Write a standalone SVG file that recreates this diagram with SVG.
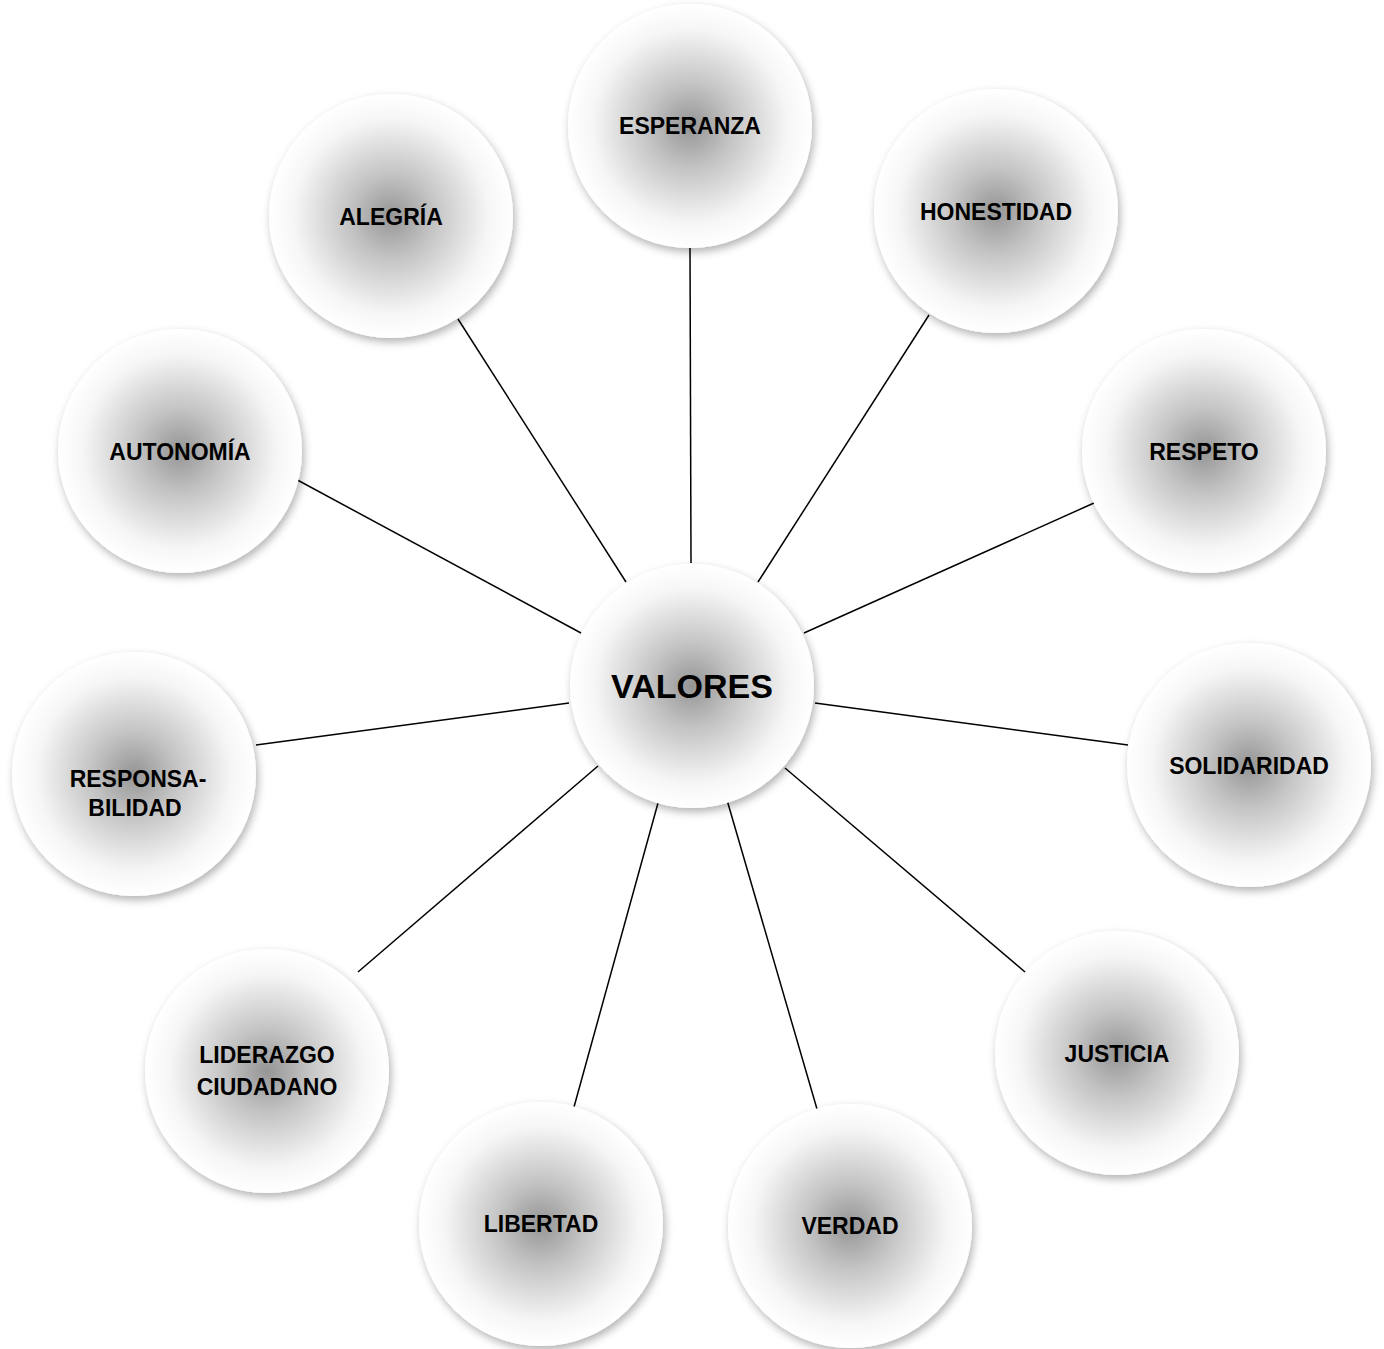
<svg xmlns="http://www.w3.org/2000/svg" width="1384" height="1349" viewBox="0 0 1384 1349">
<defs>
<radialGradient id="g" cx="50%" cy="50%" r="50%">
<stop offset="0" stop-color="#959595"/>
<stop offset="0.35" stop-color="#c4c4c4"/>
<stop offset="0.8" stop-color="#f6f6f6"/>
<stop offset="1" stop-color="#ffffff"/>
</radialGradient>
<filter id="sh" x="-20%" y="-20%" width="140%" height="140%">
<feDropShadow dx="2" dy="4" stdDeviation="4" flood-color="#000" flood-opacity="0.3"/>
</filter>
</defs>
<style>
.c{fill:url(#g);filter:url(#sh);}
.t{font-family:"Liberation Sans",Arial,sans-serif;font-weight:bold;font-size:23px;fill:#000;text-anchor:middle;}
.big{font-size:34px;}
.l{stroke:#000;stroke-width:1.5;fill:none;}
</style>
<rect width="1384" height="1349" fill="#fff"/>
<g id="connectors">
<line class="l" x1="690" y1="248" x2="691" y2="563"/>
<line class="l" x1="929" y1="315" x2="758" y2="582"/>
<line class="l" x1="1094" y1="503" x2="804" y2="633"/>
<line class="l" x1="815" y1="703" x2="1128" y2="745"/>
<line class="l" x1="785" y1="768" x2="1025" y2="972"/>
<line class="l" x1="727" y1="800" x2="817" y2="1109"/>
<line class="l" x1="658" y1="803" x2="574" y2="1107"/>
<line class="l" x1="598" y1="766" x2="358" y2="972"/>
<line class="l" x1="569" y1="703" x2="256" y2="745"/>
<line class="l" x1="290" y1="476" x2="581" y2="633"/>
<line class="l" x1="458" y1="319" x2="626" y2="582"/>
</g>
<g id="esperanza"><circle class="c" cx="690" cy="126" r="122"/><text class="t" x="690" y="134">ESPERANZA</text></g>
<g id="alegria"><circle class="c" cx="391" cy="216" r="122"/><text class="t" x="391" y="225">ALEGRÍA</text></g>
<g id="honestidad"><circle class="c" cx="996" cy="211" r="122"/><text class="t" x="996" y="220">HONESTIDAD</text></g>
<g id="autonomia"><circle class="c" cx="180" cy="451" r="122"/><text class="t" x="180" y="460">AUTONOMÍA</text></g>
<g id="respeto"><circle class="c" cx="1204" cy="451" r="122"/><text class="t" x="1204" y="460">RESPETO</text></g>
<g id="valores"><circle class="c" cx="692" cy="686" r="122"/><text class="t big" x="692" y="698">VALORES</text></g>
<g id="responsabilidad"><circle class="c" cx="134" cy="774" r="122"/><text class="t" x="138" y="787">RESPONSA-</text><text class="t" x="135" y="816">BILIDAD</text></g>
<g id="solidaridad"><circle class="c" cx="1249" cy="765" r="122"/><text class="t" x="1249" y="774">SOLIDARIDAD</text></g>
<g id="liderazgo"><circle class="c" cx="267" cy="1071" r="122"/><text class="t" x="267" y="1063">LIDERAZGO</text><text class="t" x="267" y="1095">CIUDADANO</text></g>
<g id="justicia"><circle class="c" cx="1117" cy="1053" r="122"/><text class="t" x="1117" y="1062">JUSTICIA</text></g>
<g id="libertad"><circle class="c" cx="541" cy="1224" r="122"/><text class="t" x="541" y="1232">LIBERTAD</text></g>
<g id="verdad"><circle class="c" cx="850" cy="1226" r="122"/><text class="t" x="850" y="1234">VERDAD</text></g>
</svg>
